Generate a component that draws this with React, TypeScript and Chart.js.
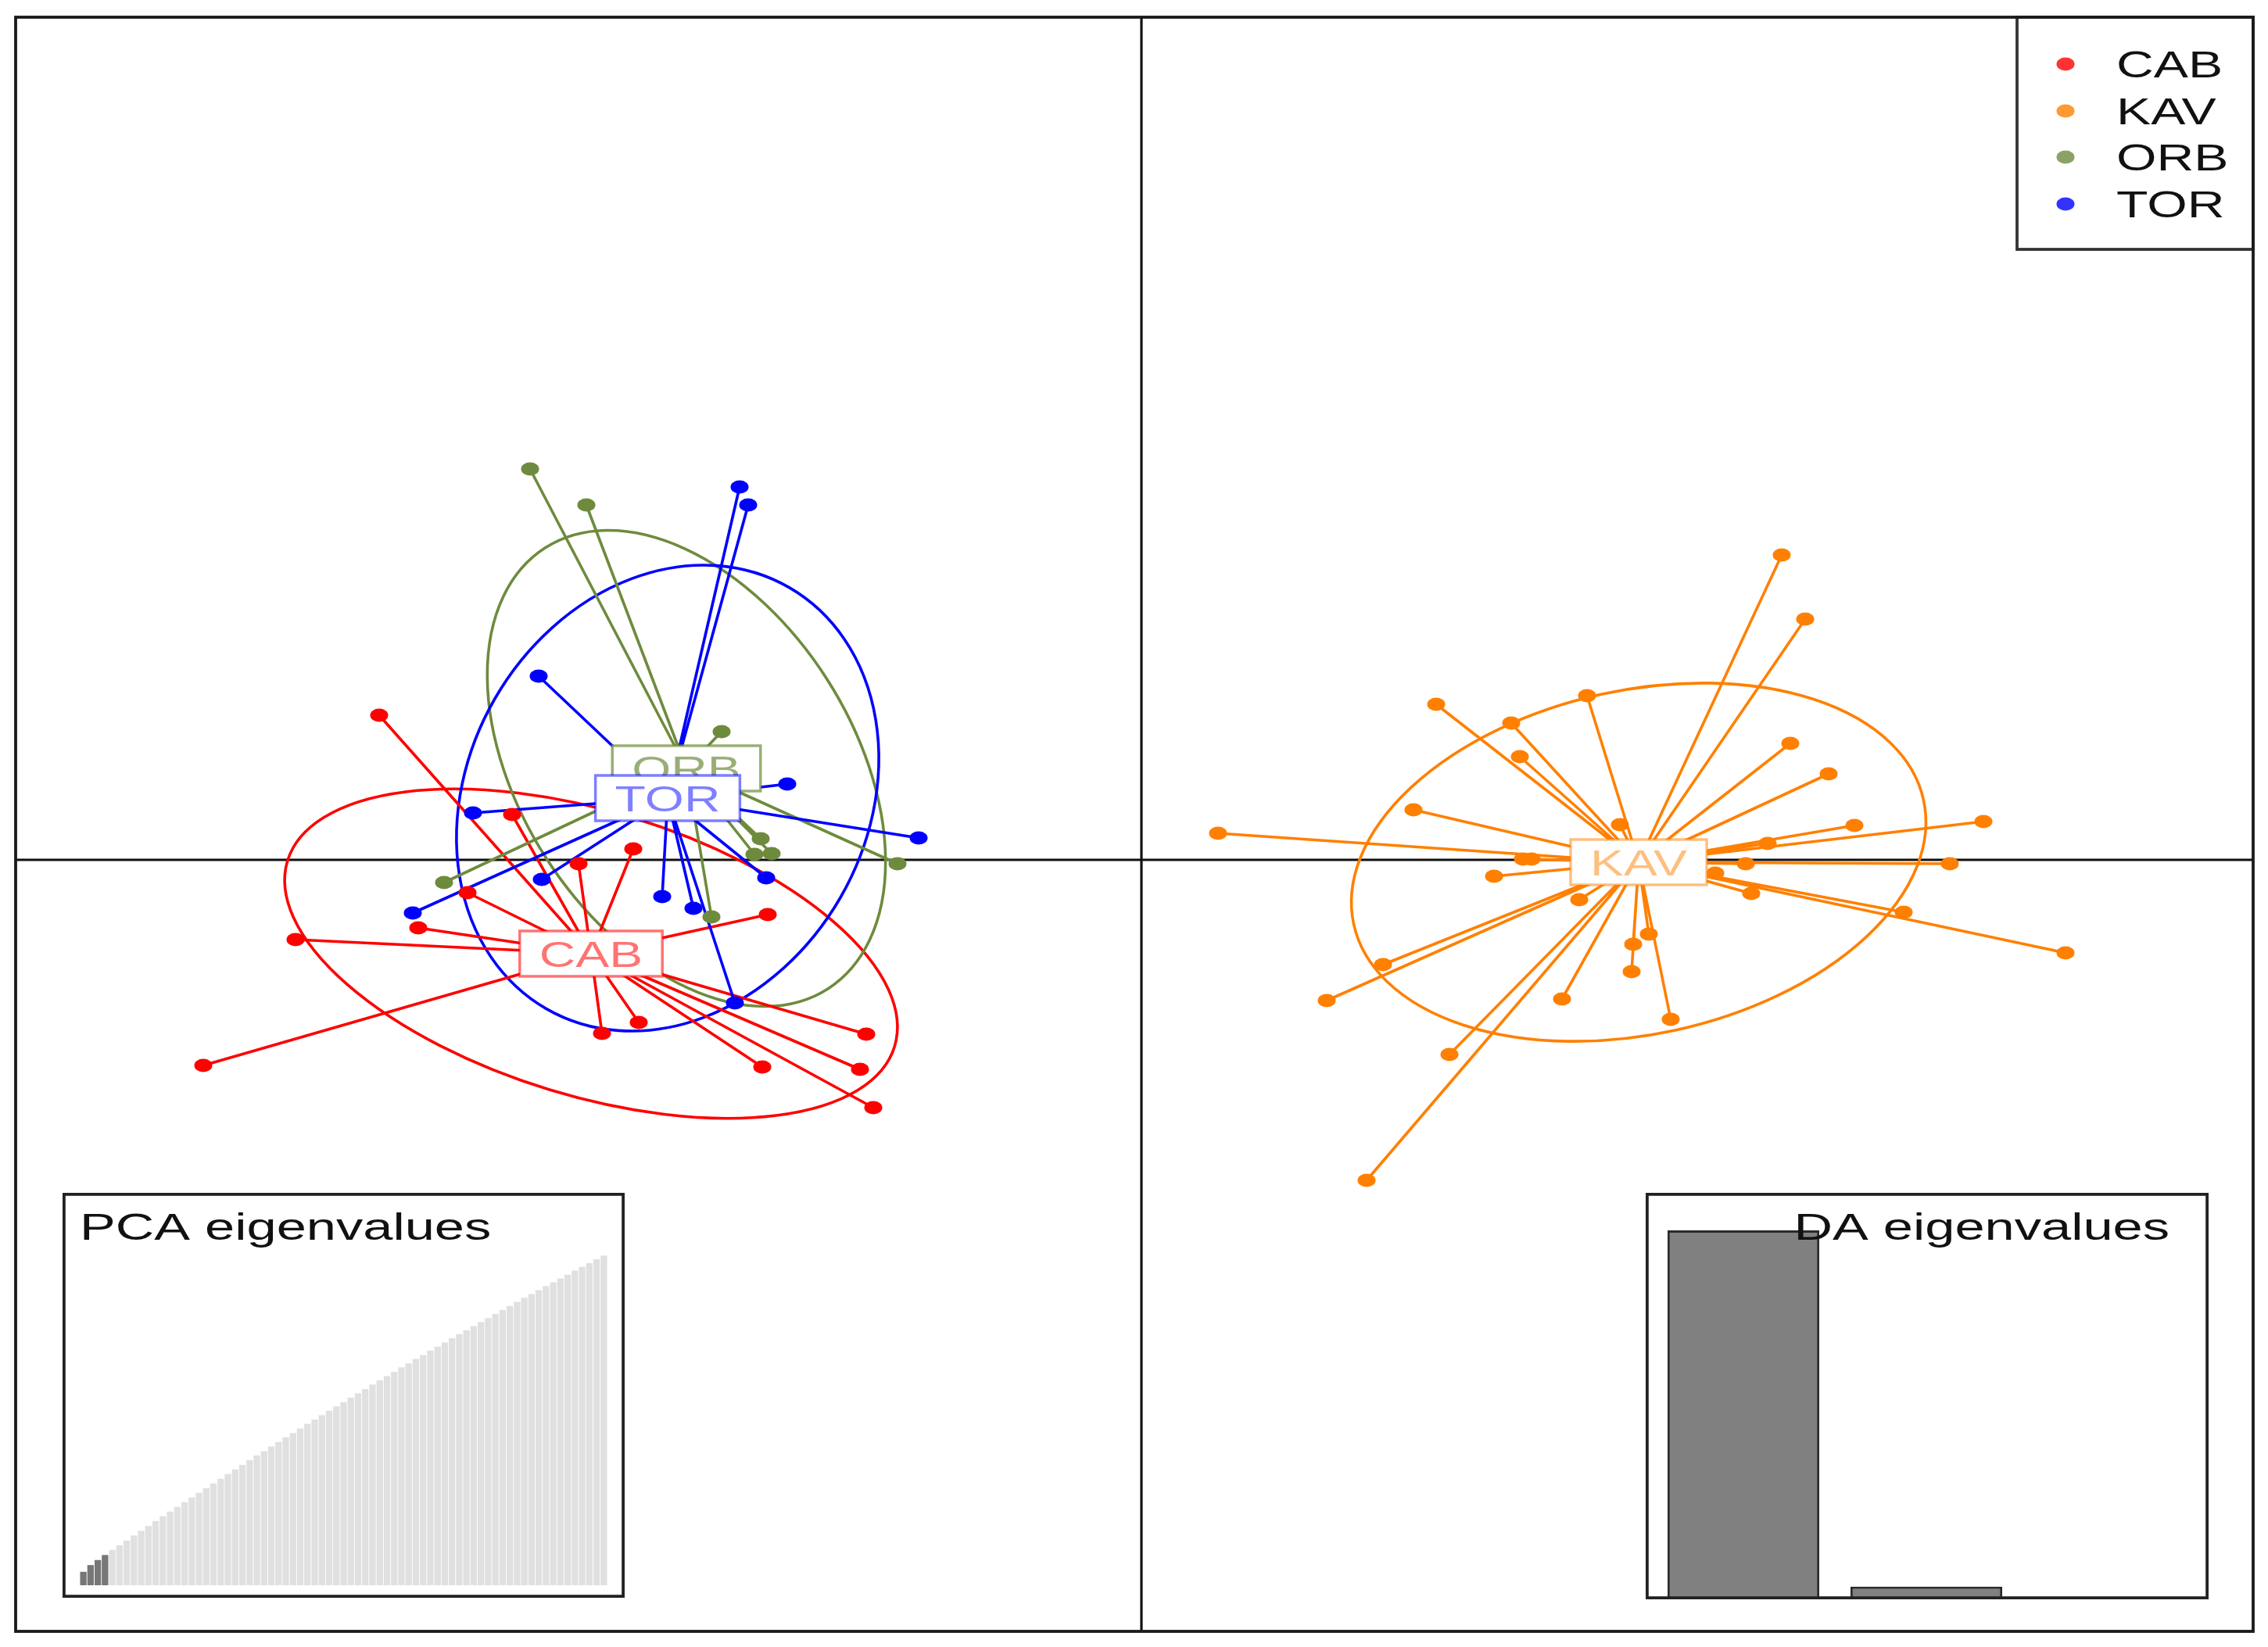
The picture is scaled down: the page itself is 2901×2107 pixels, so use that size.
import React, { useEffect, useRef } from "react";
import { Chart, registerables } from "chart.js";

Chart.register(...registerables);

// ---------------- data (LD1 / LD2 scores) ----------------
const groupNames = ["CAB", "KAV", "ORB", "TOR"];
const groupColors = ["#FF0000", "#FF8000", "#6E8B3D", "#0000FF"];
const labelColors = [
  "rgba(255,0,0,0.55)",
  "rgba(255,128,0,0.5)",
  "rgba(110,139,61,0.7)",
  "rgba(0,0,255,0.5)",
];

const cabLD1 = [-9.75, -8.05, -8.62, -9.25, -10.82, -12.0, -6.5, -7.2, -4.78, -6.9, -6.43, -3.52, -4.85, -3.6, -3.43];
const cabLD2 = [1.85, 0.58, -0.42, -0.87, -1.02, -2.63, 0.14, -0.05, -0.7, -2.22, -2.08, -2.23, -2.65, -2.68, -3.17];

const kavLD1 = [8.19, 8.49, 3.77, 4.73, 5.7, 4.84, 8.3, 8.79, 3.48, 0.98, 9.12, 10.77, 8.01, 7.73, 10.34, 6.12, 4.99, 4.88, 4.51, 7.34, 7.8, 9.75, 11.82, 5.6, 6.49, 6.29, 6.27, 5.38, 3.09, 2.37, 3.94, 2.88, 6.77];
const kavLD2 = [3.9, 3.08, 1.99, 1.75, 2.1, 1.32, 1.49, 1.1, 0.64, 0.34, 0.44, 0.49, 0.21, -0.05, -0.05, 0.45, 0.01, 0.01, -0.21, -0.17, -0.43, -0.67, -1.19, -0.51, -0.95, -1.08, -1.43, -1.78, -1.34, -1.8, -2.49, -4.1, -2.04];

const orbLD1 = [-7.82, -7.1, -5.37, -8.92, -4.87, -4.73, -4.95, -3.12, -5.5];
const orbLD2 = [5.0, 4.54, 1.64, -0.29, 0.27, 0.08, 0.07, -0.05, -0.73];

const torLD1 = [-7.71, -5.14, -5.03, -4.53, -8.55, -7.67, -9.32, -2.85, -4.8, -6.13, -5.73, -5.2];
const torLD2 = [2.35, 4.77, 4.54, 0.97, 0.6, -0.25, -0.68, 0.28, -0.23, -0.47, -0.62, -1.83];

const centroidLD1 = [-7.04, 6.36, -5.82, -6.06];
const centroidLD2 = [-1.2, -0.03, 1.17, 0.79];

const ellipseMajor = [4.06, 3.73, 3.35, 3.11];
const ellipseMinor = [1.82, 2.2, 2.13, 2.55];
const ellipseAngleDeg = [-17, 12.3, -57.3, 60];

const xRange = [-14.4, 14.22];
const yRange = [-9.87, 10.78];

const pcaEigenvalues = [
  4, 6, 7.5, 9, 10.5, 11.9, 13.3, 14.8, 16.2, 17.6,
  19.1, 20.5, 21.9, 23.3, 24.7, 26.1, 27.5, 28.9, 30.3, 31.7,
  33.1, 34.5, 35.8, 37.2, 38.6, 39.9, 41.3, 42.6, 44.0, 45.3,
  46.6, 48.0, 49.3, 50.6, 51.9, 53.2, 54.5, 55.8, 57.1, 58.4,
  59.7, 61.0, 62.2, 63.5, 64.8, 66.0, 67.3, 68.5, 69.8, 71.0,
  72.2, 73.5, 74.7, 75.9, 77.1, 78.3, 79.5, 80.7, 81.9, 83.1,
  84.3, 85.5, 86.6, 87.8, 89.0, 90.1, 91.3, 92.4, 93.6, 94.7,
  95.8, 97.0, 98.1,
];
const pcaRetained = 4;
const daEigenvalues = [100, 2.8, 0];

const FONT = '"Liberation Sans", Arial, Helvetica, sans-serif';
const STRETCH = 1.4;

// ---------------- helpers ----------------
const groupX = [cabLD1, kavLD1, orbLD1, torLD1];
const groupY = [cabLD2, kavLD2, orbLD2, torLD2];

function makeDot(color: string) {
  const c = document.createElement("canvas");
  c.width = 26;
  c.height = 20;
  const g = c.getContext("2d")!;
  g.fillStyle = color;
  g.beginPath();
  g.ellipse(13, 10, 11.5, 8.5, 0, 0, Math.PI * 2);
  g.fill();
  return c;
}

function stretchedText(ctx: CanvasRenderingContext2D, text: string, x: number, y: number, size: number, align: CanvasTextAlign, color: string, sx = STRETCH) {
  ctx.save();
  ctx.translate(x, y);
  ctx.scale(sx, 1);
  ctx.font = `${size}px ${FONT}`;
  ctx.textAlign = align;
  ctx.textBaseline = "alphabetic";
  ctx.fillStyle = color;
  ctx.fillText(text, 0, 0);
  ctx.restore();
}

const dapcDecor = {
  id: "dapcDecor",
  beforeDatasetsDraw(chart: any) {
    const { ctx, chartArea: a, scales } = chart;
    const x = scales.x, y = scales.y;
    ctx.save();
    ctx.strokeStyle = "#111";
    ctx.lineWidth = 3.2;
    const x0 = x.getPixelForValue(0);
    const y0 = y.getPixelForValue(0);
    ctx.beginPath();
    ctx.moveTo(a.left, y0);
    ctx.lineTo(a.right, y0);
    ctx.moveTo(x0, a.top);
    ctx.lineTo(x0, a.bottom);
    ctx.stroke();
    groupNames.forEach((_, i) => {
      const cx = x.getPixelForValue(centroidLD1[i]);
      const cy = y.getPixelForValue(centroidLD2[i]);
      const rx = Math.abs(x.getPixelForValue(centroidLD1[i] + ellipseMajor[i]) - cx);
      const ry = Math.abs(y.getPixelForValue(centroidLD2[i] + ellipseMinor[i]) - cy);
      ctx.strokeStyle = groupColors[i];
      ctx.lineWidth = 3.6;
      ctx.beginPath();
      ctx.ellipse(cx, cy, rx, ry, (-ellipseAngleDeg[i] * Math.PI) / 180, 0, Math.PI * 2);
      ctx.stroke();
    });
    ctx.restore();
  },
  afterDatasetsDraw(chart: any) {
    const { ctx, scales } = chart;
    const x = scales.x, y = scales.y;
    ctx.save();
    groupNames.forEach((g, i) => {
      const cx = x.getPixelForValue(centroidLD1[i]);
      const cy = y.getPixelForValue(centroidLD2[i]);
      ctx.font = `46px ${FONT}`;
      const tw = ctx.measureText(g).width * STRETCH;
      const w = tw + 50;
      const h = 58;
      ctx.fillStyle = "#fff";
      ctx.fillRect(cx - w / 2, cy - h / 2, w, h);
      ctx.strokeStyle = labelColors[i];
      ctx.lineWidth = 3.5;
      ctx.strokeRect(cx - w / 2, cy - h / 2, w, h);
      stretchedText(ctx, g, cx, cy + 16.5, 46, "center", labelColors[i]);
    });
    ctx.restore();
  },
  afterDraw(chart: any) {
    const { ctx, chartArea: a } = chart;
    ctx.save();
    // legend
    const lx = 2580, ly = a.top, lw = a.right - 2580, lh = 297;
    ctx.fillStyle = "#fff";
    ctx.fillRect(lx, ly, lw, lh);
    ctx.strokeStyle = "#333";
    ctx.lineWidth = 3.8;
    ctx.strokeRect(lx, ly, lw, lh);
    const rows = [82, 142, 201, 261];
    groupNames.forEach((g, i) => {
      ctx.fillStyle = groupColors[i];
      ctx.globalAlpha = 0.8;
      ctx.beginPath();
      ctx.ellipse(2642, rows[i], 11.5, 8.5, 0, 0, Math.PI * 2);
      ctx.fill();
      ctx.globalAlpha = 1;
      stretchedText(ctx, g, 2707, rows[i] + 17, 48, "left", "#111", 1.38);
    });
    // frame
    ctx.strokeStyle = "#1a1a1a";
    ctx.lineWidth = 3.8;
    ctx.strokeRect(a.left, a.top, a.right - a.left, a.bottom - a.top);
    ctx.restore();
  },
};

function insetDecor(title: string, tx: number, align: CanvasTextAlign) {
  return {
    id: "insetDecor",
    beforeDraw(chart: any) {
      const { ctx, width, height } = chart;
      ctx.save();
      ctx.fillStyle = "#fff";
      ctx.fillRect(0, 0, width, height);
      ctx.restore();
    },
    afterDraw(chart: any) {
      const { ctx, width, height } = chart;
      ctx.save();
      stretchedText(ctx, title, tx, 60, 49, align, "#111");
      ctx.strokeStyle = "#222";
      ctx.lineWidth = 3.8;
      ctx.strokeRect(1.9, 1.9, width - 3.8, height - 3.8);
      ctx.restore();
    },
  };
}

export default function App() {
  const mainRef = useRef<HTMLCanvasElement>(null);
  const pcaRef = useRef<HTMLCanvasElement>(null);
  const daRef = useRef<HTMLCanvasElement>(null);

  useEffect(() => {
    const datasets: any[] = [];
    groupNames.forEach((g, i) => {
      const xs = groupX[i], ys = groupY[i];
      const star: any[] = [];
      xs.forEach((v, k) => {
        star.push({ x: centroidLD1[i], y: centroidLD2[i] });
        star.push({ x: v, y: ys[k] });
      });
      datasets.push({
        label: g + " links",
        data: star,
        showLine: true,
        borderColor: groupColors[i],
        borderWidth: 3.6,
        borderJoinStyle: "round",
        borderCapStyle: "round",
        pointRadius: 0,
        tension: 0,
        order: 20 - i,
      });
    });
    groupNames.forEach((g, i) => {
      const xs = groupX[i], ys = groupY[i];
      datasets.push({
        label: g,
        data: xs.map((v, k) => ({ x: v, y: ys[k] })),
        showLine: false,
        pointStyle: makeDot(groupColors[i]),
        pointRadius: 9,
        pointBackgroundColor: groupColors[i],
        order: 10 - i,
      });
    });

    const main = new Chart(mainRef.current!, {
      type: "scatter",
      data: { datasets },
      options: {
        animation: false,
        responsive: false,
        devicePixelRatio: 1,
        events: [],
        layout: { padding: { left: 20, top: 22, right: 19, bottom: 20 } },
        scales: {
          x: { type: "linear", min: xRange[0], max: xRange[1], display: false },
          y: { type: "linear", min: yRange[0], max: yRange[1], display: false },
        },
        plugins: { legend: { display: false }, tooltip: { enabled: false } },
      } as any,
      plugins: [dapcDecor as any],
    });

    const pca = new Chart(pcaRef.current!, {
      type: "bar",
      data: {
        labels: pcaEigenvalues.map((_, k) => String(k + 1)),
        datasets: [
          {
            data: pcaEigenvalues,
            backgroundColor: pcaEigenvalues.map((_, k) => (k < pcaRetained ? "#777777" : "#e0e0e0")),
            borderWidth: 0,
            barPercentage: 0.9,
            categoryPercentage: 1,
          },
        ],
      },
      options: {
        animation: false,
        responsive: false,
        devicePixelRatio: 1,
        events: [],
        layout: { padding: { left: 22, right: 22, top: 72, bottom: 16 } },
        scales: {
          x: { display: false },
          y: { display: false, min: 0, max: 100 },
        },
        plugins: { legend: { display: false }, tooltip: { enabled: false } },
      } as any,
      plugins: [insetDecor("PCA eigenvalues", 22, "left") as any],
    });

    const da = new Chart(daRef.current!, {
      type: "bar",
      data: {
        labels: daEigenvalues.map((_, k) => String(k + 1)),
        datasets: [
          {
            data: daEigenvalues,
            backgroundColor: "#808080",
            borderColor: "#2a2a2a",
            borderWidth: daEigenvalues.map((v) => (v > 0 ? 3 : 0)),
            barPercentage: 0.83,
            categoryPercentage: 1,
          },
        ],
      },
      options: {
        animation: false,
        responsive: false,
        devicePixelRatio: 1,
        events: [],
        layout: { padding: { left: 8, right: 10, top: 48, bottom: 3 } },
        scales: {
          x: { display: false },
          y: { display: false, min: 0, max: 100 },
        },
        plugins: { legend: { display: false }, tooltip: { enabled: false } },
      } as any,
      plugins: [insetDecor("DA eigenvalues", 670, "right") as any],
    });

    return () => {
      main.destroy();
      pca.destroy();
      da.destroy();
    };
  }, []);

  return (
    <div style={{ position: "absolute", left: 0, top: 0, width: 2901, height: 2107, background: "#fff", overflow: "hidden" }}>
      <canvas ref={mainRef} width={2901} height={2107} style={{ position: "absolute", left: 0, top: 0, width: 2901, height: 2107 }} />
      <canvas ref={pcaRef} width={719} height={518} style={{ position: "absolute", left: 80, top: 1526, width: 719, height: 518 }} />
      <canvas ref={daRef} width={720} height={520} style={{ position: "absolute", left: 2105, top: 1526, width: 720, height: 520 }} />
    </div>
  );
}
